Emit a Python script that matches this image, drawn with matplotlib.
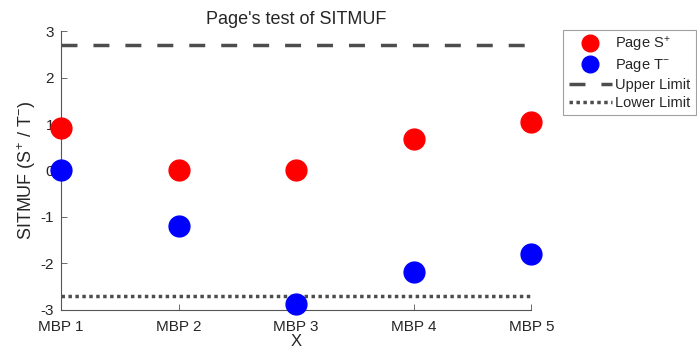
import numpy as np
import matplotlib
matplotlib.use("Agg")
import matplotlib.pyplot as plt

plt.rcParams['font.family'] = ['Liberation Sans', 'DejaVu Sans']
plt.rcParams['mathtext.fontset'] = 'custom'
plt.rcParams['mathtext.rm'] = 'Liberation Sans'
plt.rcParams['mathtext.it'] = 'Liberation Sans'
plt.rcParams['axes.unicode_minus'] = False

# data
categories = ['MBP 1', 'MBP 2', 'MBP 3', 'MBP 4', 'MBP 5']
page_s = [0.92, 0.0, 0.0, 0.67, 1.05]
page_t = [0.0, -1.2, -2.87, -2.19, -1.8]
upper_limit = 2.7
lower_limit = -2.7

txt = '#262626'
x = np.arange(1, len(categories) + 1)

fig = plt.figure(figsize=(6.97, 3.49), dpi=100)
ax = fig.add_axes([0.0875, 0.112, 0.675, 0.799])

ax.plot(x, page_s, 'o', color='red', markersize=15, label='Page S$^{+}$', clip_on=False, zorder=3)
ax.plot(x, page_t, 'o', color='blue', markersize=15, label='Page T$^{-}$', clip_on=False, zorder=3)
ax.plot(x, [upper_limit] * len(x), color='#4d4d4d', lw=2.5,
        linestyle=(0, (4.6, 4.6)), label='Upper Limit')
ax.plot(x, [lower_limit] * len(x), color='#4d4d4d', lw=2.5,
        linestyle=(0, (1, 1)), label='Lower Limit')

ax.set_xlim(1, 5)
ax.set_ylim(-3, 3)
ax.set_xticks(x)
ax.set_xticklabels(categories)
ax.set_yticks([-3, -2, -1, 0, 1, 2, 3])
ax.tick_params(direction='in', length=4, width=0.6, color='#555555',
               labelsize=11, labelcolor=txt)
ax.tick_params(axis='x', pad=7)
ax.tick_params(axis='y', pad=5)
for s in ['top', 'right']:
    ax.spines[s].set_visible(False)
for s in ['left', 'bottom']:
    ax.spines[s].set_color('#555555')
    ax.spines[s].set_linewidth(0.8)

ax.set_title("Page's test of SITMUF", fontsize=13, color=txt, pad=5)
ax.set_ylabel('SITMUF (S$^{+}$ / T$^{-}$)', fontsize=13, color=txt, labelpad=2)
ax.set_xlabel('X', fontsize=12, color=txt, labelpad=0)

leg = ax.legend(loc='upper left', bbox_to_anchor=(1.068, 1.005), fontsize=10.5,
                frameon=True, fancybox=False, borderpad=0.35, labelspacing=0.25,
                handlelength=3.0, handletextpad=0.2, borderaxespad=0,
                markerscale=0.8)
leg.get_frame().set_edgecolor('#888888')
leg.get_frame().set_linewidth(0.8)
for t in leg.get_texts():
    t.set_color(txt)

fig.savefig('out.png', dpi=100)
